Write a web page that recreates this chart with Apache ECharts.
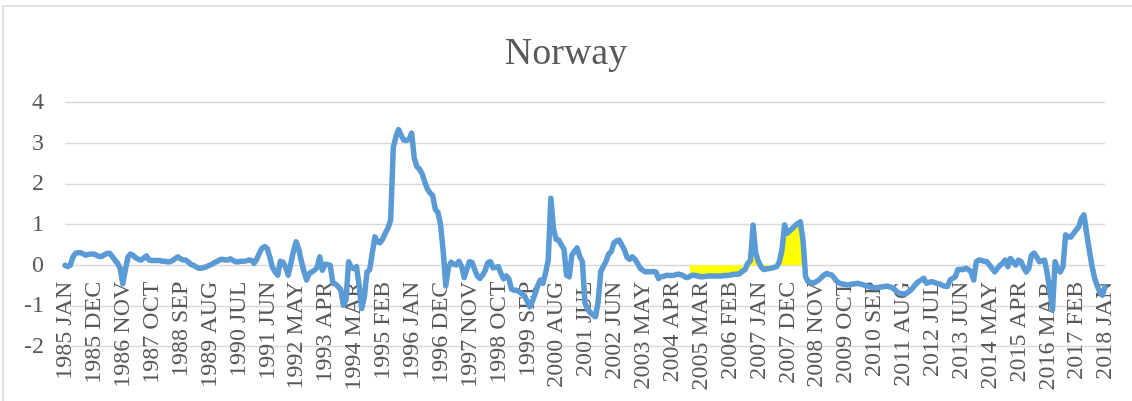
<!DOCTYPE html>
<html>
<head>
<meta charset="utf-8">
<title>Norway</title>
<script src="https://cdn.jsdelivr.net/npm/echarts@6/dist/echarts.min.js"></script>
<style>
  html, body { margin: 0; padding: 0; background: #ffffff; }
  #chart { width: 1132px; height: 401px; }
</style>
</head>
<body>
<div id="chart"></div>
<script>
// Monthly series, January 1985 through January 2018
const firstYear = 1985;
const monthNames = ['JAN', 'FEB', 'MAR', 'APR', 'MAY', 'JUN', 'JUL', 'AUG', 'SEP', 'OCT', 'NOV', 'DEC'];

const norway = [
  0.00, -0.03, 0.00, 0.20, 0.30, 0.31, 0.31, 0.28, 0.25, 0.27, 0.28, 0.28,
  0.25, 0.22, 0.22, 0.26, 0.29, 0.30, 0.22, 0.13, 0.05, -0.07, -0.45, -0.10,
  0.21, 0.28, 0.24, 0.18, 0.15, 0.13, 0.18, 0.23, 0.13, 0.12, 0.12, 0.12,
  0.12, 0.10, 0.10, 0.09, 0.09, 0.12, 0.17, 0.21, 0.16, 0.13, 0.13, 0.08,
  0.02, 0.00, -0.04, -0.07, -0.07, -0.05, -0.03, 0.00, 0.03, 0.07, 0.10, 0.14,
  0.15, 0.13, 0.13, 0.16, 0.12, 0.09, 0.09, 0.10, 0.10, 0.11, 0.13, 0.12,
  0.05, 0.15, 0.30, 0.42, 0.46, 0.42, 0.20, -0.05, -0.16, -0.24, 0.10, 0.08,
  -0.05, -0.24, 0.05, 0.35, 0.58, 0.40, 0.10, -0.15, -0.36, -0.20, -0.16, -0.12,
  -0.05, 0.21, -0.12, 0.03, 0.02, 0.00, -0.44, -0.46, -0.52, -0.60, -0.98, -0.85,
  0.09, -0.05, -0.08, -0.03, -0.50, -1.06, -0.77, -0.16, -0.11, 0.30, 0.70, 0.58,
  0.56, 0.65, 0.80, 0.92, 1.11, 2.90, 3.16, 3.34, 3.20, 3.08, 3.07, 3.10,
  3.25, 2.63, 2.43, 2.36, 2.25, 2.05, 1.88, 1.78, 1.72, 1.38, 1.30, 1.00,
  0.35, -0.50, -0.05, 0.08, 0.03, 0.01, 0.10, -0.02, -0.30, -0.10, 0.09, 0.07,
  -0.10, -0.26, -0.32, -0.24, -0.12, 0.07, 0.09, -0.06, -0.05, -0.03, -0.20, -0.33,
  -0.26, -0.33, -0.58, -0.61, -0.61, -0.65, -0.70, -0.75, -0.88, -1.02, -0.88, -0.70,
  -0.50, -0.36, -0.44, -0.18, 0.13, 1.65, 0.90, 0.64, 0.62, 0.50, 0.40, -0.24,
  -0.28, 0.25, 0.35, 0.43, 0.22, 0.09, -0.93, -1.08, -1.16, -1.22, -1.26, -0.90,
  -0.15, -0.02, 0.10, 0.28, 0.34, 0.55, 0.60, 0.62, 0.50, 0.38, 0.20, 0.15,
  0.21, 0.15, 0.05, -0.07, -0.12, -0.16, -0.16, -0.16, -0.15, -0.16, -0.32, -0.28,
  -0.27, -0.24, -0.25, -0.25, -0.24, -0.22, -0.22, -0.24, -0.28, -0.30, -0.27, -0.24,
  -0.25, -0.26, -0.28, -0.28, -0.27, -0.26, -0.26, -0.26, -0.26, -0.26, -0.26, -0.25,
  -0.25, -0.24, -0.23, -0.22, -0.22, -0.20, -0.14, -0.10, 0.05, 0.12, 0.99, 0.30,
  0.10, -0.03, -0.10, -0.09, -0.08, -0.07, -0.05, -0.03, 0.09, 0.38, 0.99, 0.79,
  0.85, 0.91, 0.98, 1.03, 1.07, 0.62, -0.28, -0.40, -0.42, -0.44, -0.40, -0.36,
  -0.30, -0.24, -0.20, -0.22, -0.24, -0.32, -0.40, -0.44, -0.46, -0.47, -0.48, -0.47,
  -0.46, -0.45, -0.44, -0.46, -0.48, -0.50, -0.52, -0.54, -0.55, -0.55, -0.54, -0.53,
  -0.52, -0.51, -0.53, -0.55, -0.60, -0.66, -0.69, -0.70, -0.70, -0.66, -0.61, -0.54,
  -0.46, -0.40, -0.36, -0.32, -0.44, -0.42, -0.40, -0.42, -0.44, -0.46, -0.49, -0.51,
  -0.52, -0.36, -0.32, -0.28, -0.10, -0.10, -0.10, -0.07, -0.10, -0.16, -0.36, 0.09,
  0.13, 0.12, 0.10, 0.09, 0.01, -0.08, -0.16, -0.08, 0.00, 0.05, 0.13, -0.03,
  0.17, 0.08, 0.01, 0.13, 0.09, -0.05, -0.16, -0.07, 0.25, 0.30, 0.21, 0.09,
  0.11, 0.13, -0.20, -0.61, -1.10, 0.09, -0.10, -0.16, -0.03, 0.75, 0.70, 0.70,
  0.78, 0.87, 0.95, 1.15, 1.24, 0.79, 0.38, 0.00, -0.30, -0.50, -0.65, -0.73,
  -0.53
];

// Shaded episode, November 2004 through June 2008
const shadeStart = 238;
const shade = [
  -0.27, -0.24,
  -0.25, -0.26, -0.28, -0.28, -0.27, -0.26, -0.26, -0.26, -0.26, -0.26, -0.26, -0.25,
  -0.25, -0.24, -0.23, -0.22, -0.22, -0.18, 0.00, 0.06, 0.10, 0.20, 0.35, 0.30,
  0.05, -0.03, -0.10, -0.09, -0.08, -0.07, -0.05, -0.03, 0.09, 0.38, 0.99, 0.79,
  0.85, 0.91, 0.98, 1.03, 1.07, 0.62
];

const yTicks = { min: -2, max: 4, step: 1 };

const categories = norway.map((_, i) =>
  (firstYear + Math.floor(i / 12)) + ' ' + monthNames[i % 12]);

const shadeData = norway.map((_, i) => {
  const k = i - shadeStart;
  return (k >= 0 && k < shade.length) ? shade[k] : null;
});

const serif = '"Times New Roman", "Liberation Serif", "DejaVu Serif", serif';
const grey = '#595959';

const chart = echarts.init(document.getElementById('chart'), null, { renderer: 'canvas' });
chart.setOption({
  animation: false,
  backgroundColor: '#ffffff',
  title: {
    text: 'Norway',
    left: 'center',
    top: 30,
    textStyle: { fontFamily: serif, fontSize: 38, fontWeight: 'normal', color: grey }
  },
  graphic: [{
    type: 'rect',
    silent: true,
    shape: { x: 3, y: 6, width: 1140, height: 410 },
    style: { fill: 'none', stroke: '#d9d9d9', lineWidth: 1.5 }
  }],
  grid: {
    left: 65, right: 27, top: 102.7, bottom: 54.3,
    containLabel: false,
    outerBoundsMode: 'none'
  },
  xAxis: {
    type: 'category',
    data: categories,
    boundaryGap: false,
    axisLine: { show: false },
    axisTick: { show: false },
    splitLine: { show: false },
    axisLabel: {
      interval: 10,
      rotate: 90,
      // labels hang just below the zero line, inside the plot area
      margin: -65,
      hideOverlap: false,
      fontFamily: serif,
      fontSize: 24,
      color: grey
    }
  },
  yAxis: {
    type: 'value',
    min: yTicks.min,
    max: yTicks.max,
    interval: yTicks.step,
    axisLine: { show: false },
    axisTick: { show: false },
    splitLine: { lineStyle: { color: '#d9d9d9', width: 1.4 } },
    axisLabel: { fontFamily: serif, fontSize: 24, color: grey, margin: 21 }
  },
  series: [
    {
      name: 'shade',
      type: 'line',
      data: shadeData,
      showSymbol: false,
      connectNulls: false,
      lineStyle: { width: 0 },
      areaStyle: { color: '#ffff00', opacity: 1, origin: 0 },
      itemStyle: { color: '#ffff00' },
      z: 1
    },
    {
      name: 'Norway',
      type: 'line',
      data: norway,
      showSymbol: false,
      symbol: 'none',
      lineStyle: { color: '#5b9bd5', width: 5.5, join: 'round', cap: 'round' },
      itemStyle: { color: '#5b9bd5' },
      z: 2
    }
  ]
});
</script>
</body>
</html>
